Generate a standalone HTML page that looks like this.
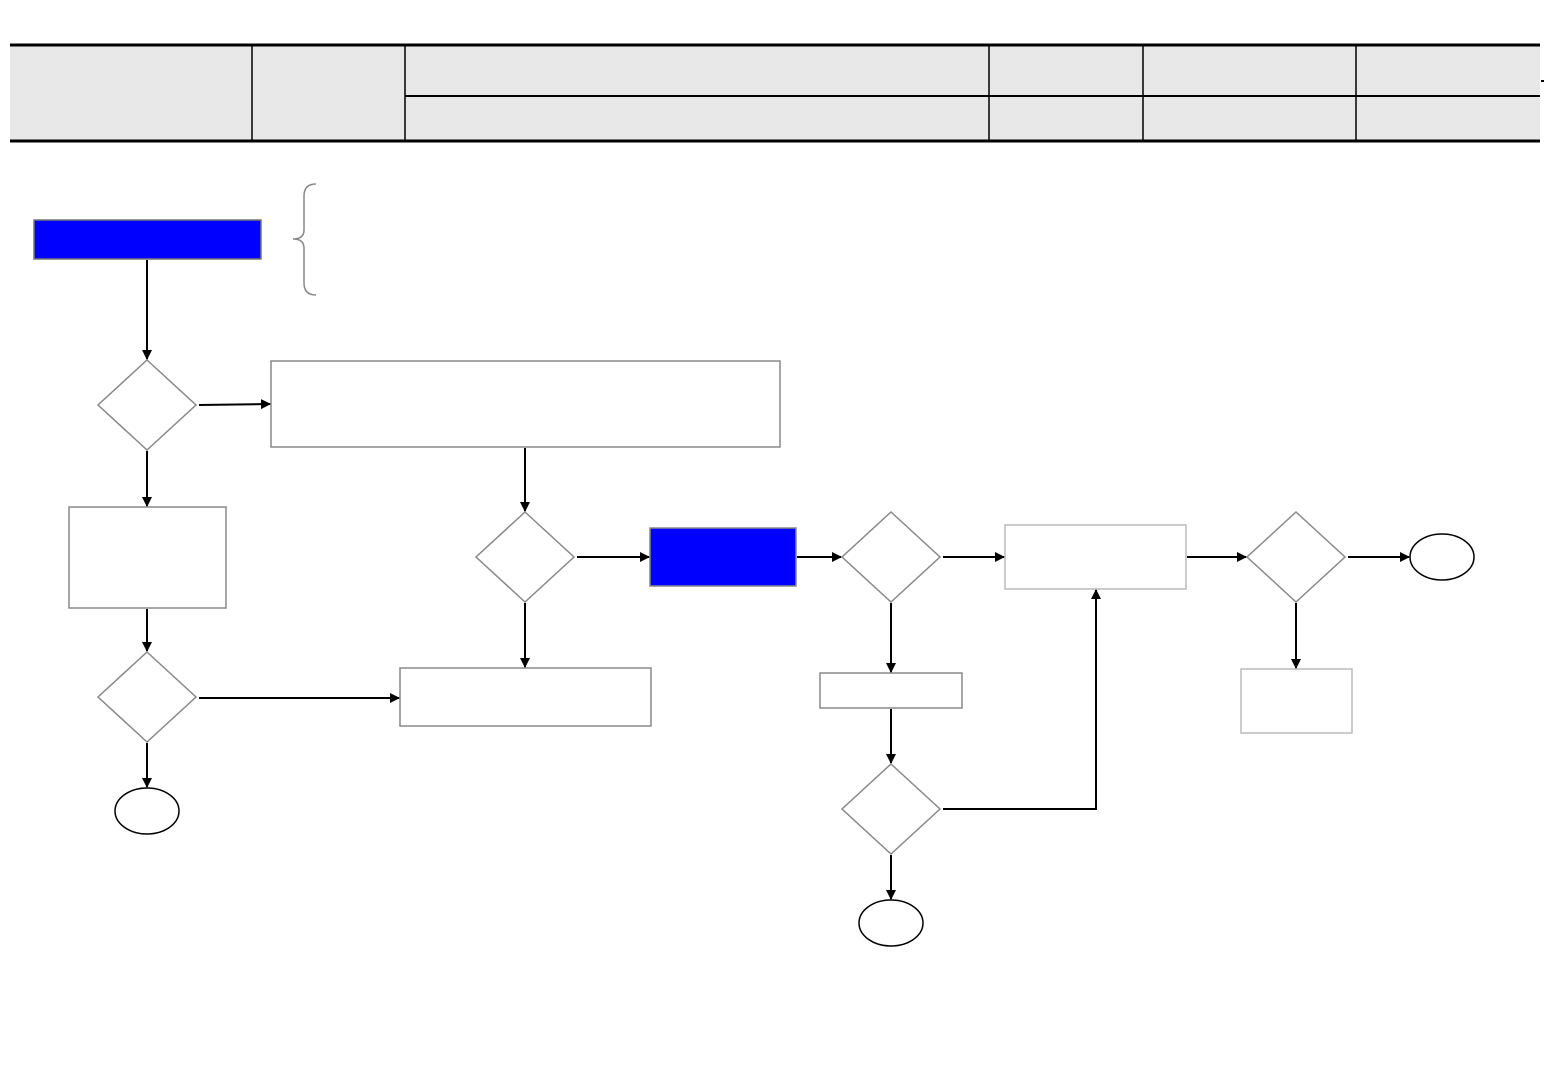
<!DOCTYPE html>
<html><head><meta charset="utf-8"><style>html,body{margin:0;padding:0;background:#fff;}svg{display:block;}</style></head>
<body>
<svg width="1560" height="1080" viewBox="0 0 1560 1080" xmlns="http://www.w3.org/2000/svg">
<defs>
<marker id="a" markerWidth="10" markerHeight="10" refX="9" refY="5" orient="auto" markerUnits="userSpaceOnUse">
<path d="M0,0 L10,5 L0,10 Z" fill="#000"/></marker>
</defs>
<!-- header -->
<rect x="10" y="46" width="1530" height="94" fill="#e8e8e8"/>
<line x1="10" y1="45" x2="1540" y2="45" stroke="#000" stroke-width="3"/>
<line x1="10" y1="141" x2="1540" y2="141" stroke="#000" stroke-width="3"/>
<line x1="405" y1="96" x2="1540" y2="96" stroke="#000" stroke-width="2"/>
<g stroke="#000" stroke-width="1.5">
<line x1="252" y1="46" x2="252" y2="140"/><line x1="405" y1="46" x2="405" y2="140"/>
<line x1="989" y1="46" x2="989" y2="140"/><line x1="1143" y1="46" x2="1143" y2="140"/>
<line x1="1356" y1="46" x2="1356" y2="140"/></g>
<rect x="1541" y="80" width="3" height="2" fill="#000"/>
<!-- brace -->
<path d="M316,184 Q304,184 304,196 L304,230 Q304,239 293,239 Q304,239 304,248 L304,283 Q304,295 316,295" fill="none" stroke="#888" stroke-width="1.5"/>
<!-- shapes -->
<g stroke="#888" stroke-width="1.5" fill="#fff">
<rect x="34" y="220" width="227" height="39" fill="#0000ff" stroke="#777"/>
<polygon points="147,360 196,405 147,450 98,405"/>
<rect x="271" y="361" width="509" height="86"/>
<rect x="69" y="507" width="157" height="101"/>
<polygon points="147,652 196,697 147,742 98,697"/>
<polygon points="525,512 574,557 525,602 476,557"/>
<rect x="400" y="668" width="251" height="58"/>
<rect x="650" y="528" width="146" height="58" fill="#0000ff"/>
<polygon points="891,512 940,557 891,602 842,557"/>
<rect x="1005" y="525" width="181" height="64" stroke="#bbb"/>
<polygon points="1296,512 1345,557 1296,602 1247,557"/>
<rect x="1241" y="669" width="111" height="64" stroke="#bbb"/>
<rect x="820" y="673" width="142" height="35"/>
<polygon points="891,764 940,809 891,854 842,809"/>
</g>
<g stroke="#000" stroke-width="1.5" fill="#fff">
<ellipse cx="147" cy="811" rx="32" ry="23"/>
<ellipse cx="1442" cy="557" rx="32" ry="23"/>
<ellipse cx="891" cy="923" rx="32" ry="23"/>
</g>
<!-- connectors -->
<g stroke="#000" stroke-width="2" fill="none" marker-end="url(#a)">
<line x1="147" y1="260" x2="147" y2="359"/>
<line x1="199" y1="405" x2="270" y2="404"/>
<line x1="147" y1="451" x2="147" y2="506"/>
<line x1="147" y1="609" x2="147" y2="651"/>
<line x1="199" y1="698" x2="399" y2="698"/>
<line x1="147" y1="743" x2="147" y2="787"/>
<line x1="525" y1="448" x2="525" y2="511"/>
<line x1="525" y1="603" x2="525" y2="667"/>
<line x1="577" y1="557" x2="649" y2="557"/>
<line x1="797" y1="557" x2="841" y2="557"/>
<line x1="943" y1="557" x2="1004" y2="557"/>
<line x1="1187" y1="557" x2="1246" y2="557"/>
<line x1="1348" y1="557" x2="1409" y2="557"/>
<line x1="1296" y1="603" x2="1296" y2="668"/>
<line x1="891" y1="603" x2="891" y2="672"/>
<line x1="891" y1="709" x2="891" y2="763"/>
<line x1="891" y1="855" x2="891" y2="899"/>
<polyline points="943,809 1096,809 1096,590"/>
</g>
</svg>
</body></html>
